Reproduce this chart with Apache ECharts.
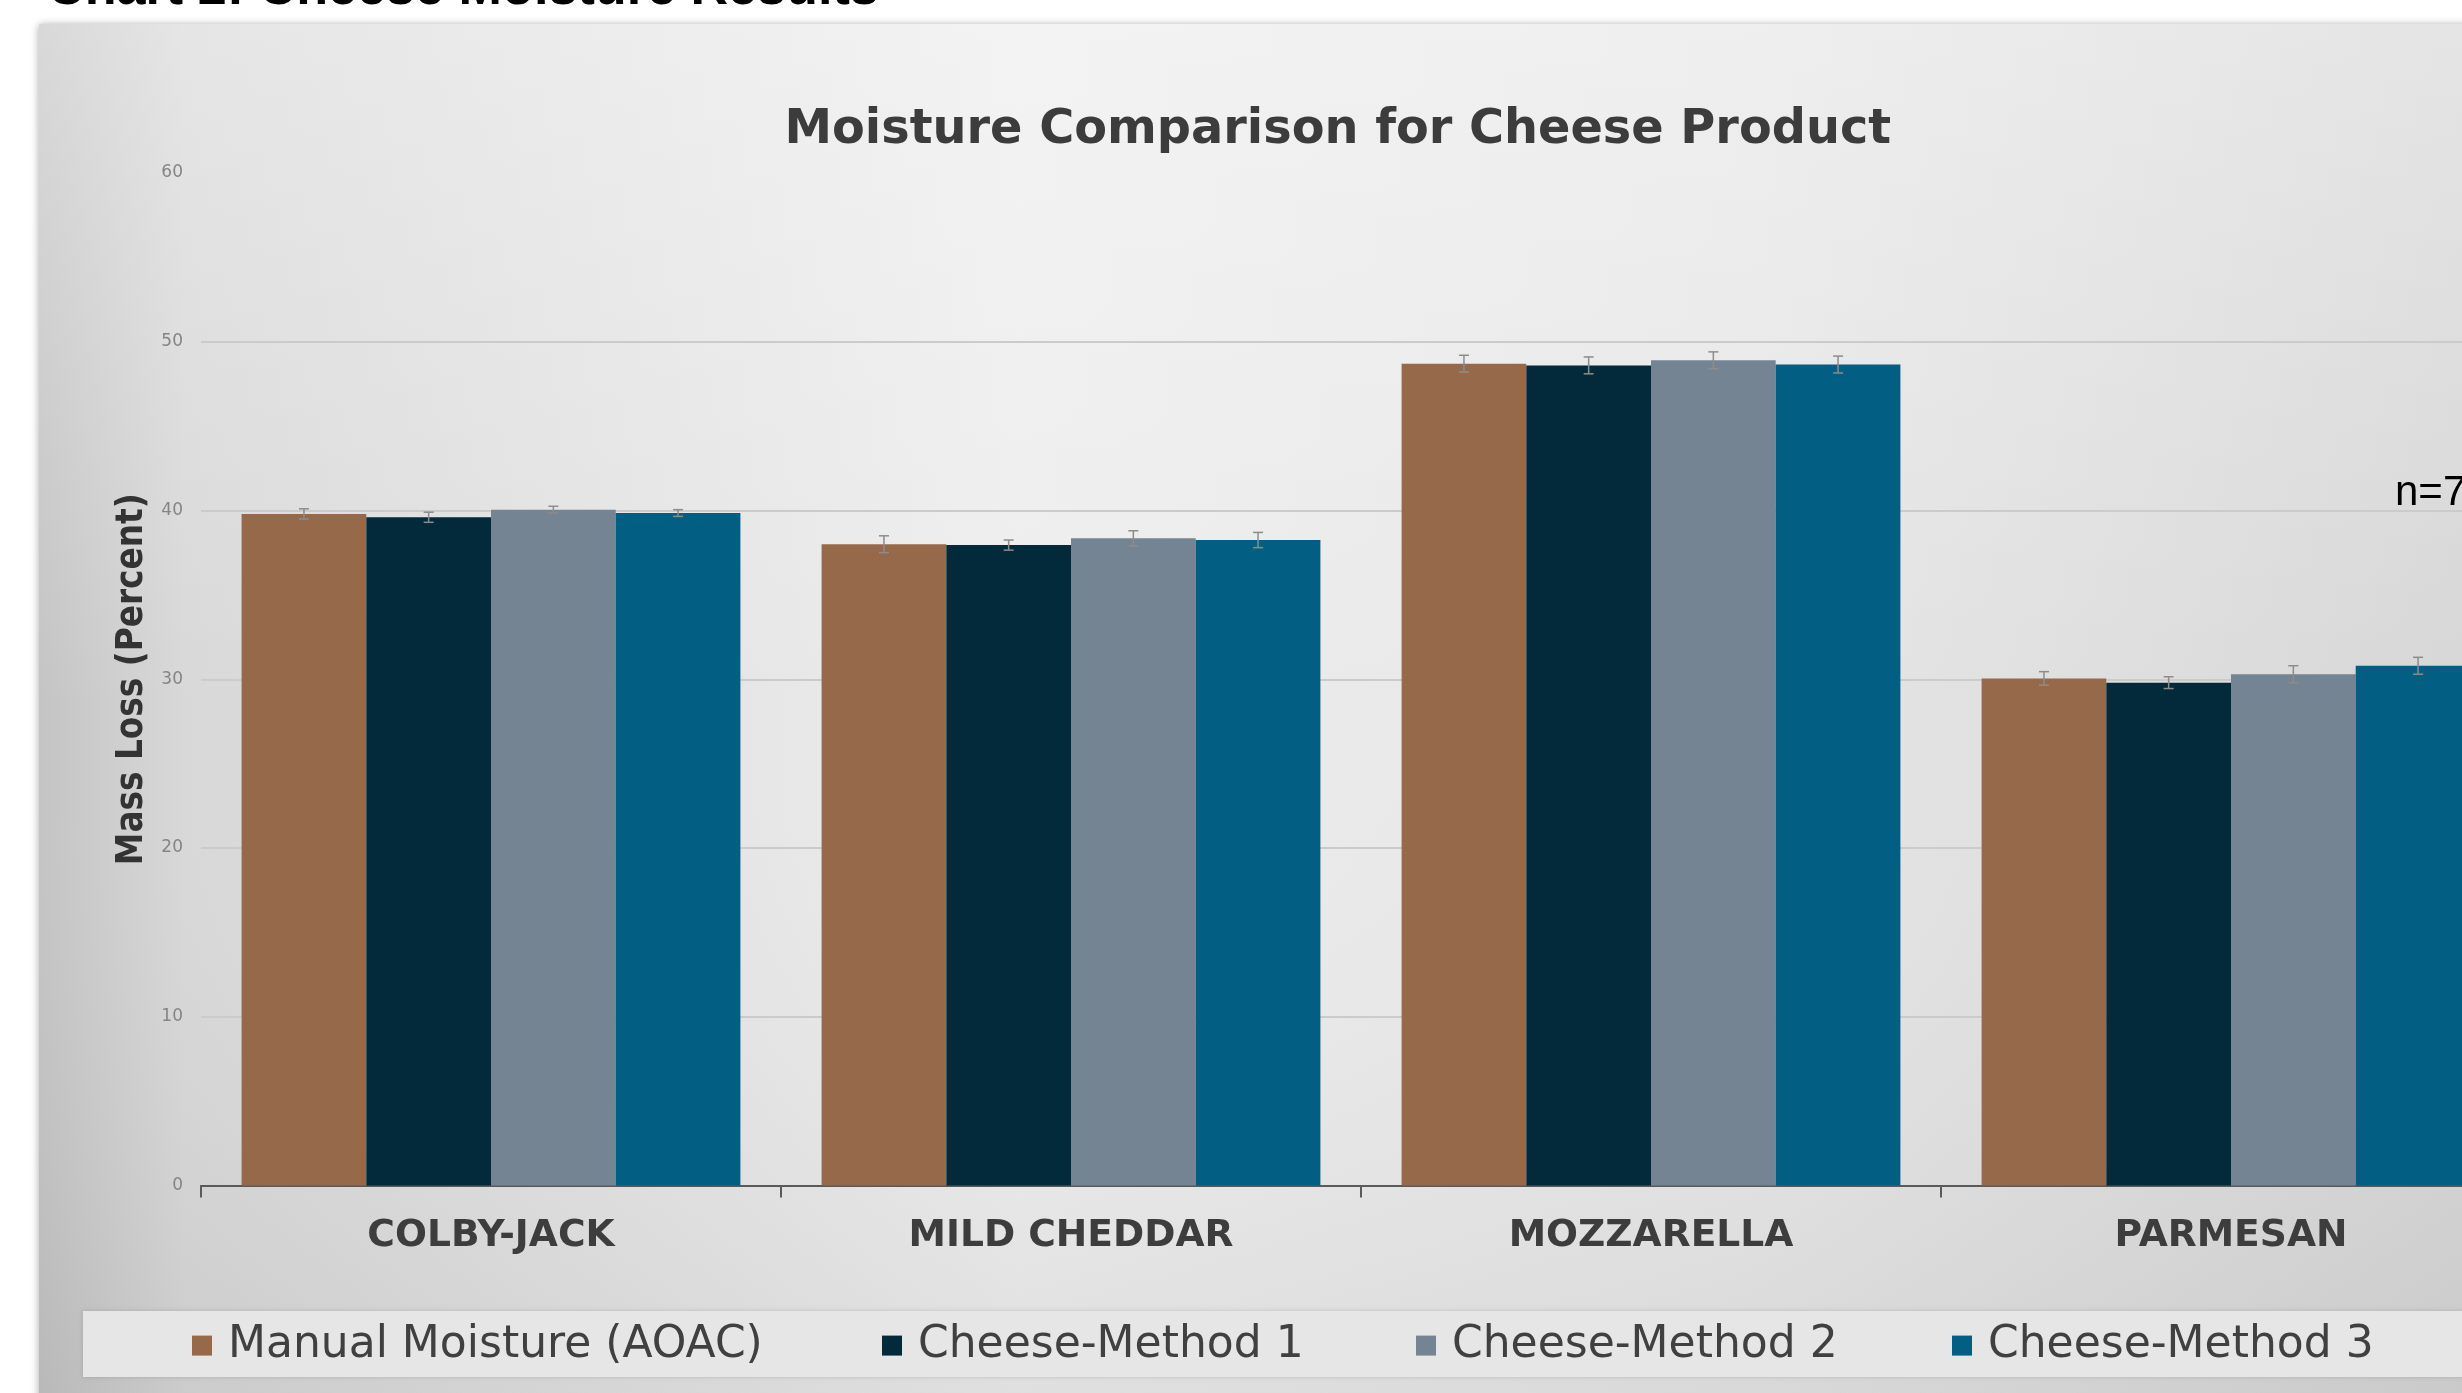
<!DOCTYPE html>
<html><head><meta charset="utf-8">
<script src="https://cdn.jsdelivr.net/npm/echarts@6/dist/echarts.min.js"></script>
<style>html,body{margin:0;padding:0;background:#fff;overflow:hidden;width:2462px;height:1393px}#c{width:2540px;height:1393px;}</style>
</head><body><div id="c"></div>
<script>
// ---- data ----
const categories = ['COLBY-JACK', 'MILD CHEDDAR', 'MOZZARELLA', 'PARMESAN'];
const seriesNames = ['Manual Moisture (AOAC)', 'Cheese-Method 1', 'Cheese-Method 2', 'Cheese-Method 3'];
const manualMoisture = [39.8, 38.0, 48.7, 30.05];
const method1 = [39.6, 37.95, 48.6, 29.8];
const method2 = [40.05, 38.35, 48.9, 30.3];
const method3 = [39.85, 38.25, 48.65, 30.8];
const manualErr = [0.3, 0.5, 0.5, 0.4];
const method1Err = [0.3, 0.3, 0.5, 0.35];
const method2Err = [0.2, 0.45, 0.5, 0.5];
const method3Err = [0.2, 0.45, 0.5, 0.5];
const yTicks = [0, 10, 20, 30, 40, 50, 60];

// ---- styling helpers ----
const ctx = document.createElement('canvas').getContext('2d');
function fit(text, weight, family, w) { ctx.font = weight + ' 100px ' + family; return 100 * w / ctx.measureText(text).width; }
const GOTHIC = "'DejaVu Sans', sans-serif";
const COND = "'DejaVu Sans Condensed', 'Liberation Sans Narrow', sans-serif";
const ARIAL = "'Liberation Sans', Arial, sans-serif";
const colors = ['#96694a', '#022a3a', '#758493', '#035e83'];
const values = [manualMoisture, method1, method2, method3];
const errs = [manualErr, method1Err, method2Err, method3Err];
const GAP = 0.14;

const titleText = 'Moisture Comparison for Cheese Product';
const titleFs = fit(titleText, 'bold', GOTHIC, 1107);
const xFs = fit('MILD CHEDDAR', 'bold', GOTHIC, 325);
const legFs = fit('Manual Moisture (AOAC)', 'normal', GOTHIC, 535);
const yNameFs = fit('Mass Loss (Percent)', 'bold', COND, 372);
const topFs = fit('Chart 2: Cheese Moisture Results', 'bold', ARIAL, 832);

const barSeries = seriesNames.map((n, i) => ({
  name: n, type: 'bar', data: values[i], barGap: '0%', barCategoryGap: (GAP * 100) + '%',
  itemStyle: { color: colors[i] }, z: 2, silent: true
}));
const errData = [];
values.forEach((v, i) => v.forEach((val, j) => errData.push([j, val, errs[i][j], i])));
const errSeries = {
  type: 'custom', name: 'err', data: errData, z: 5, silent: true,
  encode: { x: 0, y: 1 },
  renderItem(params, api) {
    const c = api.value(0), v = api.value(1), e = api.value(2), s = api.value(3);
    const band = api.size([1, 0])[0];
    const bw = band * (1 - GAP) / 4;
    const x = api.coord([c, v])[0] + (s - 1.5) * bw;
    const top = api.coord([c, v + e])[1], bot = api.coord([c, v - e])[1];
    const cap = 5, st = { stroke: '#8c8c8c', lineWidth: 1.5 };
    return { type: 'group', children: [
      { type: 'line', shape: { x1: x, y1: top, x2: x, y2: bot }, style: st },
      { type: 'line', shape: { x1: x - cap, y1: top, x2: x + cap, y2: top }, style: st },
      { type: 'line', shape: { x1: x - cap, y1: bot, x2: x + cap, y2: bot }, style: st }
    ] };
  }
};

const legendLefts = [192, 882, 1416, 1952];
const legends = seriesNames.map((n, i) => ({
  data: [n], left: legendLefts[i], top: 1350 - legFs * 0.6, padding: 0,
  itemWidth: 20, itemHeight: 20, icon: 'rect',
  textStyle: { fontFamily: GOTHIC, fontSize: legFs, color: '#404040', padding: [0, 0, 0, 11] }
}));

const chart = echarts.init(document.getElementById('c'), null, { renderer: 'canvas' });
chart.setOption({
  backgroundColor: '#ffffff',
  animation: false,
  title: [{
    text: titleText, left: 1338 - 1107 / 2, top: 131 - titleFs / 2, padding: 0,
    textStyle: { fontFamily: GOTHIC, fontWeight: 'bold', fontSize: titleFs, color: '#3c3c3c', lineHeight: titleFs }
  }],
  legend: legends,
  graphic: [
    { type: 'rect', z: -100, shape: { x: 39, y: 24, width: 2440, height: 1380 },
      style: { fill: { type: 'linear', x: 0, y: 0, x2: 1, y2: 0, colorStops: [
        { offset: 0, color: '#c4c4c4' }, { offset: 0.06, color: '#d8d8d8' }, { offset: 0.4, color: '#ededed' },
        { offset: 0.7, color: '#e6e6e6' }, { offset: 1, color: '#d6d6d6' }] },
        shadowBlur: 8, shadowColor: 'rgba(0,0,0,0.35)', shadowOffsetY: 1 } },
    { type: 'rect', z: -99, shape: { x: 39, y: 24, width: 2440, height: 1380 },
      style: { fill: { type: 'linear', x: 0, y: 0, x2: 0, y2: 1, colorStops: [
        { offset: 0, color: 'rgba(255,255,255,0.35)' }, { offset: 0.5, color: 'rgba(255,255,255,0)' },
        { offset: 1, color: 'rgba(0,0,0,0.06)' }] } } },
    { type: 'rect', z: -98, shape: { x: 83, y: 1311, width: 2440, height: 66 },
      style: { fill: '#e6e6e6', shadowBlur: 4, shadowColor: 'rgba(0,0,0,0.15)' } },
    { type: 'text', z: 10, style: { text: 'Chart 2: Cheese Moisture Results', x: 47, y: 4 + topFs * 0.22,
      verticalAlign: 'bottom', font: 'bold ' + topFs + 'px ' + ARIAL, fill: '#000' } },
    { type: 'text', z: 10, style: { text: 'n=7', x: 2395, y: 493, verticalAlign: 'middle',
      font: '42px ' + ARIAL, fill: '#000' } }
  ],
  grid: { left: 201, top: 173, width: 2320, height: 1012.5, containLabel: false },
  xAxis: {
    type: 'category', data: categories,
    axisLine: { lineStyle: { color: '#5a5a5a', width: 2 } },
    axisTick: { show: true, length: 12, lineStyle: { color: '#5a5a5a', width: 2 } },
    axisLabel: { color: '#3d3d3d', fontWeight: 'bold', fontFamily: GOTHIC, fontSize: xFs, margin: 32 },
    splitLine: { show: false }
  },
  yAxis: {
    type: 'value', min: yTicks[0], max: yTicks[yTicks.length - 1], interval: yTicks[1] - yTicks[0],
    axisLine: { show: false }, axisTick: { show: false },
    axisLabel: { color: '#858585', fontSize: 17, margin: 18, fontFamily: GOTHIC },
    splitLine: { show: true, showMaxLine: false, lineStyle: { color: '#cbcbcb', width: 2 } },
    name: 'Mass Loss (Percent)', nameLocation: 'middle', nameRotate: 90, nameGap: 50,
    nameTextStyle: { fontFamily: COND, fontWeight: 'bold', fontSize: yNameFs, color: '#333333' }
  },
  series: [...barSeries, errSeries]
});
</script></body></html>
